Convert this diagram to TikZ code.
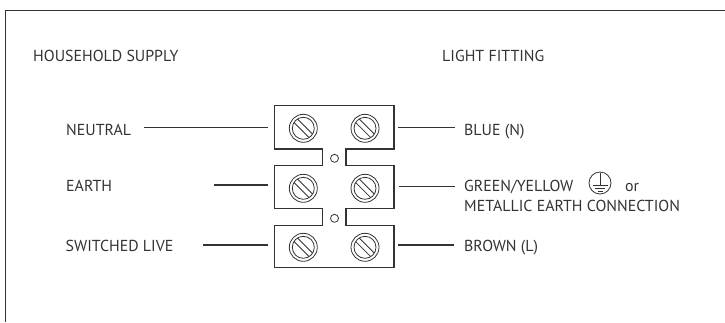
\documentclass[tikz,border=0pt]{standalone}
\usepackage{fontspec}
\setmainfont{PT Sans}
\definecolor{inkgrey}{RGB}{51, 51, 51}
\usetikzlibrary{positioning}
\tikzset{
  wirelabel/.style={anchor=base west, inner sep=0pt, text=inkgrey, font=\fontsize{15.9}{18}\selectfont},
  leader/.style={draw=inkgrey, line width=1.1pt},
  block/.style={draw=inkgrey, line width=1.2pt, line join=miter},
  thinline/.style={draw=inkgrey, line width=0.8pt}
}
\begin{document}
\begin{tikzpicture}[x=1pt, y=-1pt]
  \useasboundingbox (0,0) rectangle (725,322);
  % Frame
  \draw[leader] (5.7,322) -- (5.7,10.7) -- (725,10.7);

  % Headings
  \node[wirelabel] (supply) at (33,61.7) {HOUSEHOLD SUPPLY};
  \node[wirelabel] (fitting) at (442,61.7) {LIGHT FITTING};

  % Left labels
  \node[wirelabel] (neutral) at (66,135) {NEUTRAL};
  \node[wirelabel] (earth) at (66,191.7) {EARTH};
  \node[wirelabel] (live) at (65.5,251.7) {SWITCHED LIVE};

  % Right labels
  \node[wirelabel] (blue) at (464,135) {BLUE (N)};
  \node[wirelabel] (green) at (464,191.7) {GREEN/YELLOW};
  \node[wirelabel] (or) at (625,191.7) {or};
  \node[wirelabel] (metal) at (464,211.7) {METALLIC EARTH CONNECTION};
  \node[wirelabel] (brown) at (464,251.7) {BROWN (L)};

  % Terminal block
  \draw[block] (274.3,105.7) -- (394,105.7) -- (394,149) -- (346,149) -- (346,165.7)
    -- (394,165.7) -- (394,208.3) -- (346,208.3) -- (346,225.7) -- (394,225.7)
    -- (394,267.7) -- (274.3,267.7) -- (274.3,225.7) -- (322.7,225.7) -- (322.7,208.3)
    -- (274.3,208.3) -- (274.3,165.7) -- (322.7,165.7) -- (322.7,149) -- (274.3,149) -- cycle;
  \draw[thinline] (334.5,158.3) circle (4pt);
  \draw[thinline] (334.5,218.3) circle (4pt);

  % Screws
  \foreach \x in {303.3,365} {
    \foreach \y in {128.3,188.3,247.3} {
      \draw[thinline] (\x,\y) circle (14pt);
      \draw[thinline] (\x,\y) circle (11pt);
      \draw[thinline] (\x-5.8,\y-9.34) -- (\x+9.34,\y+5.8);
      \draw[thinline] (\x-9.34,\y-5.8) -- (\x+5.8,\y+9.34);
    }
  }

  % Leader ends
  \coordinate (neutral-a) at (143.5,127.5);
  \coordinate (neutral-b) at (268,127.5);
  \coordinate (earth-a) at (214,185);
  \coordinate (earth-b) at (268,185);
  \coordinate (live-a) at (203,245);
  \coordinate (live-b) at (268,245);
  \coordinate (blue-a) at (398,127.5);
  \coordinate (blue-b) at (454.5,127.5);
  \coordinate (green-a) at (399,186.7);
  \coordinate (green-b) at (455,186.7);
  \coordinate (brown-a) at (397.5,245);
  \coordinate (brown-b) at (454,245);
  \foreach \w in {neutral,earth,live,blue,green,brown} {
    \draw[leader] (\w-a) -- (\w-b);
  }

  % Earth symbol
  \draw[thinline] (600,183) circle (11pt);
  \draw[thinline] (600,173.3) -- (600,185.7);
  \draw[thinline] (592.5,185.7) -- (607.5,185.7);
  \draw[thinline] (595,188.7) -- (605,188.7);
  \draw[thinline] (597.5,191.4) -- (602.5,191.4);
\end{tikzpicture}
\end{document}
